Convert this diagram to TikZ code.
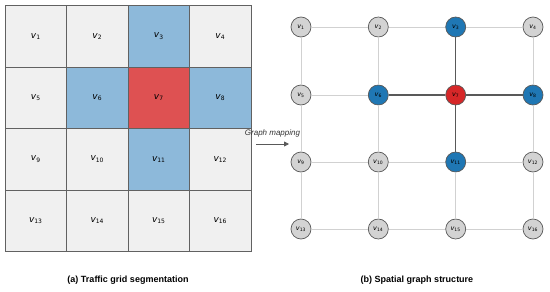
\documentclass[tikz,border=0pt]{standalone}
\usepackage{fontspec}
\setmainfont{Liberation Sans}
\newfontfamily\labfont{DejaVu Sans}
\usepackage{tikz}
\usetikzlibrary{arrows.meta, positioning}

\definecolor{cellgray}{HTML}{F0F0F0}
\definecolor{cellblue}{HTML}{8DB9DA}
\definecolor{cellred}{HTML}{DE5152}
\definecolor{nodegray}{HTML}{D3D3D3}
\definecolor{nodeblue}{HTML}{1F77B4}
\definecolor{nodered}{HTML}{D62728}

\newcommand{\vlab}[1]{{\labfont\itshape v}\textsubscript{\labfont #1}}

\begin{document}
\begin{tikzpicture}[
  x=1pt, y=-1pt,
  cell/.style={rectangle, draw=black!62, line width=0.9pt, fill=cellgray,
               minimum size=61.5pt, inner sep=0pt, font=\fontsize{9}{10}\selectfont},
  bcell/.style={cell, fill=cellblue},
  rcell/.style={cell, fill=cellred},
  vert/.style={circle, draw=black!65, line width=0.7pt, fill=nodegray,
               minimum size=20pt, inner sep=0pt, font=\fontsize{6.5}{7}\selectfont},
  bvert/.style={vert, fill=nodeblue},
  rvert/.style={vert, fill=nodered},
  edge/.style={draw=black!18, line width=0.9pt},
  hedge/.style={draw=black!65, line width=1.4pt},
  caption/.style={font=\fontsize{9}{11}\selectfont\bfseries},
  arrow/.style={-{Triangle[length=5pt, width=5pt]}, line width=0.8pt, color=black!65}
]
\useasboundingbox (0,0) rectangle (550,292);

% grid cells
\node[cell]  (c1)  at (35.75,36.25)  {\vlab{1}};
\node[cell]  (c2)  at (97.25,36.25)  {\vlab{2}};
\node[bcell] (c3)  at (158.75,36.25) {\vlab{3}};
\node[cell]  (c4)  at (220.25,36.25) {\vlab{4}};
\node[cell]  (c5)  at (35.75,97.75)  {\vlab{5}};
\node[bcell] (c6)  at (97.25,97.75)  {\vlab{6}};
\node[rcell] (c7)  at (158.75,97.75) {\vlab{7}};
\node[bcell] (c8)  at (220.25,97.75) {\vlab{8}};
\node[cell]  (c9)  at (35.75,159.25)  {\vlab{9}};
\node[cell]  (c10) at (97.25,159.25)  {\vlab{10}};
\node[bcell] (c11) at (158.75,159.25) {\vlab{11}};
\node[cell]  (c12) at (220.25,159.25) {\vlab{12}};
\node[cell]  (c13) at (35.75,220.75)  {\vlab{13}};
\node[cell]  (c14) at (97.25,220.75)  {\vlab{14}};
\node[cell]  (c15) at (158.75,220.75) {\vlab{15}};
\node[cell]  (c16) at (220.25,220.75) {\vlab{16}};

% graph vertices
\node[vert]  (v1)  at (301,27)  {\vlab{1}};
\node[vert]  (v2)  at (378.3,27)  {\vlab{2}};
\node[bvert] (v3)  at (455.7,27)  {\vlab{3}};
\node[vert]  (v4)  at (533,27)  {\vlab{4}};
\node[vert]  (v5)  at (301,95)  {\vlab{5}};
\node[bvert] (v6)  at (378.3,95)  {\vlab{6}};
\node[rvert] (v7)  at (455.7,95)  {\vlab{7}};
\node[bvert] (v8)  at (533,95)  {\vlab{8}};
\node[vert]  (v9)  at (301,162)  {\vlab{9}};
\node[vert]  (v10) at (378.3,162)  {\vlab{10}};
\node[bvert] (v11) at (455.7,162)  {\vlab{11}};
\node[vert]  (v12) at (533,162)  {\vlab{12}};
\node[vert]  (v13) at (301,229)  {\vlab{13}};
\node[vert]  (v14) at (378.3,229)  {\vlab{14}};
\node[vert]  (v15) at (455.7,229)  {\vlab{15}};
\node[vert]  (v16) at (533,229)  {\vlab{16}};

% graph edges
\draw[edge] (v1) -- (v2);  \draw[edge] (v2) -- (v3);  \draw[edge] (v3) -- (v4);
\draw[edge] (v5) -- (v6);  \draw[hedge] (v6) -- (v7); \draw[hedge] (v7) -- (v8);
\draw[edge] (v9) -- (v10); \draw[edge] (v10) -- (v11); \draw[edge] (v11) -- (v12);
\draw[edge] (v13) -- (v14); \draw[edge] (v14) -- (v15); \draw[edge] (v15) -- (v16);
\draw[edge] (v1) -- (v5);  \draw[edge] (v5) -- (v9);  \draw[edge] (v9) -- (v13);
\draw[edge] (v2) -- (v6);  \draw[edge] (v6) -- (v10); \draw[edge] (v10) -- (v14);
\draw[hedge] (v3) -- (v7); \draw[hedge] (v7) -- (v11); \draw[edge] (v11) -- (v15);
\draw[edge] (v4) -- (v8);  \draw[edge] (v8) -- (v12); \draw[edge] (v12) -- (v16);

% mapping arrow
\coordinate (mapfrom) at (256,144);
\coordinate (mapto) at (289,144);
\draw[arrow] (mapfrom) -- (mapto);
\node[font=\fontsize{8}{9}\selectfont\itshape, color=black!80] (maplab) at (272.5,133) {Graph mapping};

% captions
\node[caption] (capa) at (128,280) {(a) Traffic grid segmentation};
\node[caption] (capb) at (417,280) {(b) Spatial graph structure};
\end{tikzpicture}
\end{document}
